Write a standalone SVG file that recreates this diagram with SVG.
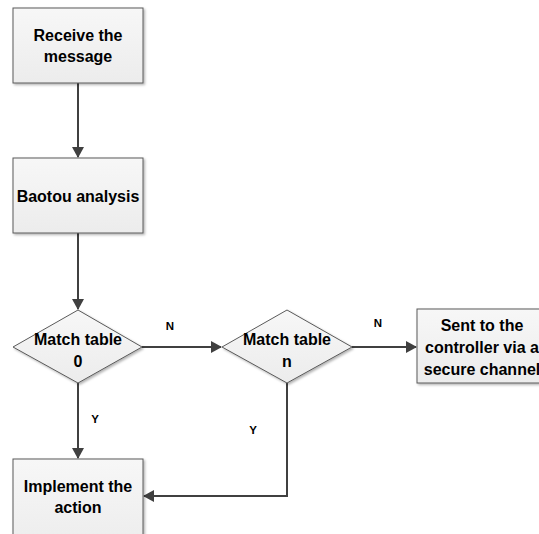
<svg xmlns="http://www.w3.org/2000/svg" width="539" height="534" viewBox="0 0 539 534">
<defs>
<linearGradient id="g" x1="0" y1="0" x2="0" y2="1"><stop offset="0" stop-color="#f7f7f7"/><stop offset="1" stop-color="#ececec"/></linearGradient>
<filter id="sh" x="-10%" y="-10%" width="130%" height="130%"><feDropShadow dx="1.5" dy="1.5" stdDeviation="1" flood-color="#000" flood-opacity="0.3"/></filter>
<marker id="ah" markerWidth="11" markerHeight="12" refX="10" refY="6" orient="auto" markerUnits="userSpaceOnUse"><path d="M0,0 L11,6 L0,12 z" fill="#404040"/></marker>
<style>
.n{fill:url(#g);stroke:#5a5a5a;stroke-width:1;filter:url(#sh)}
.t{font-family:"Liberation Sans",Arial,sans-serif;font-weight:bold;font-size:16px;fill:#000;text-anchor:middle}
.l{font-family:"Liberation Sans",Arial,sans-serif;font-weight:bold;font-size:11.5px;fill:#000;text-anchor:middle}
.e{fill:none;stroke:#404040;stroke-width:2}
</style>
</defs>
<rect width="539" height="534" fill="#fff"/>
<g id="connectors">
<path class="e" d="M78,83 V157" marker-end="url(#ah)"/>
<path class="e" d="M78,233 V309" marker-end="url(#ah)"/>
<path class="e" d="M142,347 H221" marker-end="url(#ah)"/>
<path class="e" d="M352,347 H416" marker-end="url(#ah)"/>
<path class="e" d="M78,383 V458" marker-end="url(#ah)"/>
<path class="e" d="M287,383 V496 H144" marker-end="url(#ah)"/>
<text class="l" x="170" y="330">N</text>
<text class="l" x="378" y="327">N</text>
<text class="l" x="95" y="423">Y</text>
<text class="l" x="253" y="434">Y</text>
</g>
<g id="receive"><rect class="n" x="13" y="8" width="130" height="75"/><text class="t" x="78" y="41">Receive the</text><text class="t" x="78" y="62">message</text></g>
<g id="baotou"><rect class="n" x="13" y="158" width="130" height="75"/><text class="t" x="78" y="202">Baotou analysis</text></g>
<g id="match0"><path class="n" d="M78,310 L142,347 L78,383 L13,347 Z"/><text class="t" x="78" y="345">Match table</text><text class="t" x="78" y="367">0</text></g>
<g id="matchn"><path class="n" d="M287,310 L352,347 L287,383 L222,347 Z"/><text class="t" x="287" y="345">Match table</text><text class="t" x="287" y="367">n</text></g>
<g id="sent"><rect class="n" x="417" y="309" width="130" height="74"/><text class="t" x="482" y="331">Sent to the</text><text class="t" x="482" y="353">controller via a</text><text class="t" x="482" y="375">secure channel</text></g>
<g id="implement"><rect class="n" x="13" y="459" width="130" height="90"/><text class="t" x="78" y="492">Implement the</text><text class="t" x="78" y="513">action</text></g>
</svg>
